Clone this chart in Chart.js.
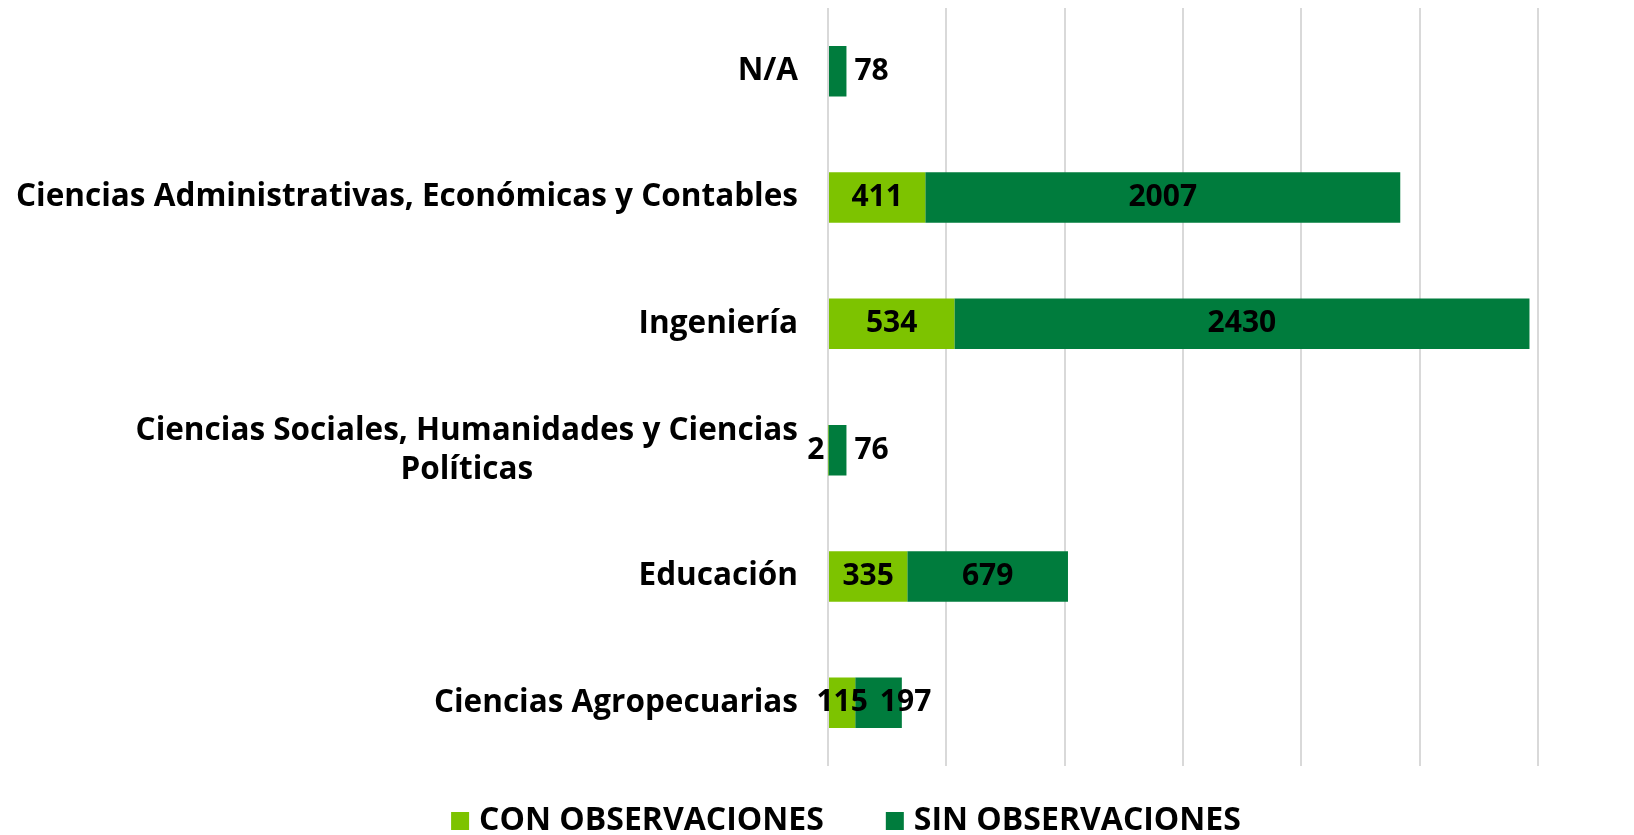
<!DOCTYPE html>
<html lang="es">

<head>
    <meta charset="UTF-8">
    <title>Observaciones por facultad</title>
    <script src="https://cdn.jsdelivr.net/npm/chart.js"></script>
    <style>
        html, body {
            margin: 0;
            padding: 0;
            background: #ffffff;
        }

        #wrap {
            width: 1634px;
            height: 835px;
        }
    </style>
</head>

<body>
    <div id="wrap"><canvas id="barChart"></canvas></div>

    <script>
        // Data
        const categorias = [
            'N/A',
            'Ciencias Administrativas, Económicas y Contables',
            'Ingeniería',
            ['Ciencias Sociales, Humanidades y Ciencias', 'Políticas'],
            'Educación',
            'Ciencias Agropecuarias'
        ];
        const series = ['CON OBSERVACIONES', 'SIN OBSERVACIONES'];
        const conObservaciones = [0, 411, 534, 2, 335, 115];
        const sinObservaciones = [78, 2007, 2430, 76, 679, 197];
        const xMax = 3000;
        const xStep = 500;

        const FONT = '"Open Sans", Lato, sans-serif';
        const CAT_SIZE = 31.5;
        const VAL_SIZE = 30;
        const LEG_SIZE = 32;
        const LABEL_RIGHT = 798;   // right edge of the category labels
        const PLOT_LEFT = 828;
        const LEGEND_CENTER = 846;
        const LEGEND_Y = 821;

        // Category labels: block right aligned, lines centred within the block
        const categoryLabels = {
            id: 'categoryLabels',
            afterDraw(chart) {
                const ctx = chart.ctx;
                const y = chart.scales.y;
                ctx.save();
                ctx.font = `bold ${CAT_SIZE}px ${FONT}`;
                ctx.fillStyle = '#000000';
                ctx.textAlign = 'center';
                ctx.textBaseline = 'middle';
                categorias.forEach((cat, i) => {
                    const lines = Array.isArray(cat) ? cat : [cat];
                    const w = Math.max(...lines.map(l => ctx.measureText(l).width));
                    const cx = LABEL_RIGHT - w / 2;
                    const lh = 39;
                    const cy = y.getPixelForValue(i);
                    lines.forEach((l, k) => {
                        ctx.fillText(l, cx, cy + (k - (lines.length - 1) / 2) * lh);
                    });
                });
                ctx.restore();
            }
        };

        // Value labels: centred in the segment, tiny segments get them outside,
        // and a label never overlaps the one before it on the same bar
        const valueLabels = {
            id: 'valueLabels',
            afterDatasetsDraw(chart) {
                const ctx = chart.ctx;
                ctx.save();
                ctx.font = `bold ${VAL_SIZE}px ${FONT}`;
                ctx.fillStyle = '#000000';
                ctx.textBaseline = 'middle';
                ctx.textAlign = 'left';
                const lastRight = {};
                chart.data.datasets.forEach((ds, di) => {
                    const meta = chart.getDatasetMeta(di);
                    meta.data.forEach((bar, i) => {
                        const v = ds.data[i];
                        if (!v) return;
                        const txt = String(v);
                        const tw = ctx.measureText(txt).width;
                        const left = Math.min(bar.x, bar.base);
                        const right = Math.max(bar.x, bar.base);
                        let x;
                        if (v < 100) {
                            x = di === 0 ? left - 4 - tw : right + 8;
                        } else {
                            x = (left + right) / 2 - tw / 2;
                        }
                        if (lastRight[i] !== undefined) x = Math.max(x, lastRight[i] + 12);
                        ctx.fillText(txt, x, bar.y);
                        lastRight[i] = x + tw;
                    });
                });
                ctx.restore();
            }
        };

        // Legend drawn by hand so the spacing matches
        const bottomLegend = {
            id: 'bottomLegend',
            afterDraw(chart) {
                const ctx = chart.ctx;
                const box = 18, gap = 10, itemGap = 62;
                ctx.save();
                ctx.font = `bold ${LEG_SIZE}px ${FONT}`;
                ctx.textBaseline = 'middle';
                ctx.textAlign = 'left';
                const items = chart.data.datasets.map(ds => ({
                    text: ds.label,
                    color: ds.backgroundColor,
                    w: ctx.measureText(ds.label).width
                }));
                const total = items.reduce((s, it) => s + box + gap + it.w, 0) + itemGap * (items.length - 1);
                let x = LEGEND_CENTER - total / 2;
                items.forEach(it => {
                    ctx.fillStyle = it.color;
                    ctx.fillRect(x, LEGEND_Y - box / 2, box, box);
                    ctx.fillStyle = '#000000';
                    ctx.fillText(it.text, x + box + gap, LEGEND_Y);
                    x += box + gap + it.w + itemGap;
                });
                ctx.restore();
            }
        };

        const ctx = document.getElementById('barChart').getContext('2d');
        new Chart(ctx, {
            type: 'bar',
            data: {
                labels: categorias,
                datasets: [
                    {
                        label: series[0],
                        data: conObservaciones,
                        backgroundColor: '#7dc300',
                        borderWidth: 0
                    },
                    {
                        label: series[1],
                        data: sinObservaciones,
                        backgroundColor: '#007c3d',
                        borderWidth: 0
                    }
                ]
            },
            options: {
                indexAxis: 'y',
                responsive: true,
                maintainAspectRatio: false,
                animation: false,
                layout: {
                    padding: { top: 8, right: 96, bottom: 69, left: 0 }
                },
                datasets: {
                    bar: {
                        categoryPercentage: 1.0,
                        barPercentage: 0.4
                    }
                },
                scales: {
                    x: {
                        stacked: true,
                        min: 0,
                        max: xMax,
                        ticks: { display: false, stepSize: xStep },
                        border: { display: false },
                        grid: { color: '#d9d9d9', lineWidth: 2, drawTicks: false }
                    },
                    y: {
                        stacked: true,
                        ticks: { display: false },
                        border: { display: false },
                        grid: { display: false },
                        afterFit(scale) {
                            scale.width = PLOT_LEFT;
                        }
                    }
                },
                plugins: {
                    legend: { display: false },
                    tooltip: { enabled: false }
                }
            },
            plugins: [categoryLabels, valueLabels, bottomLegend]
        });
    </script>
</body>

</html>
